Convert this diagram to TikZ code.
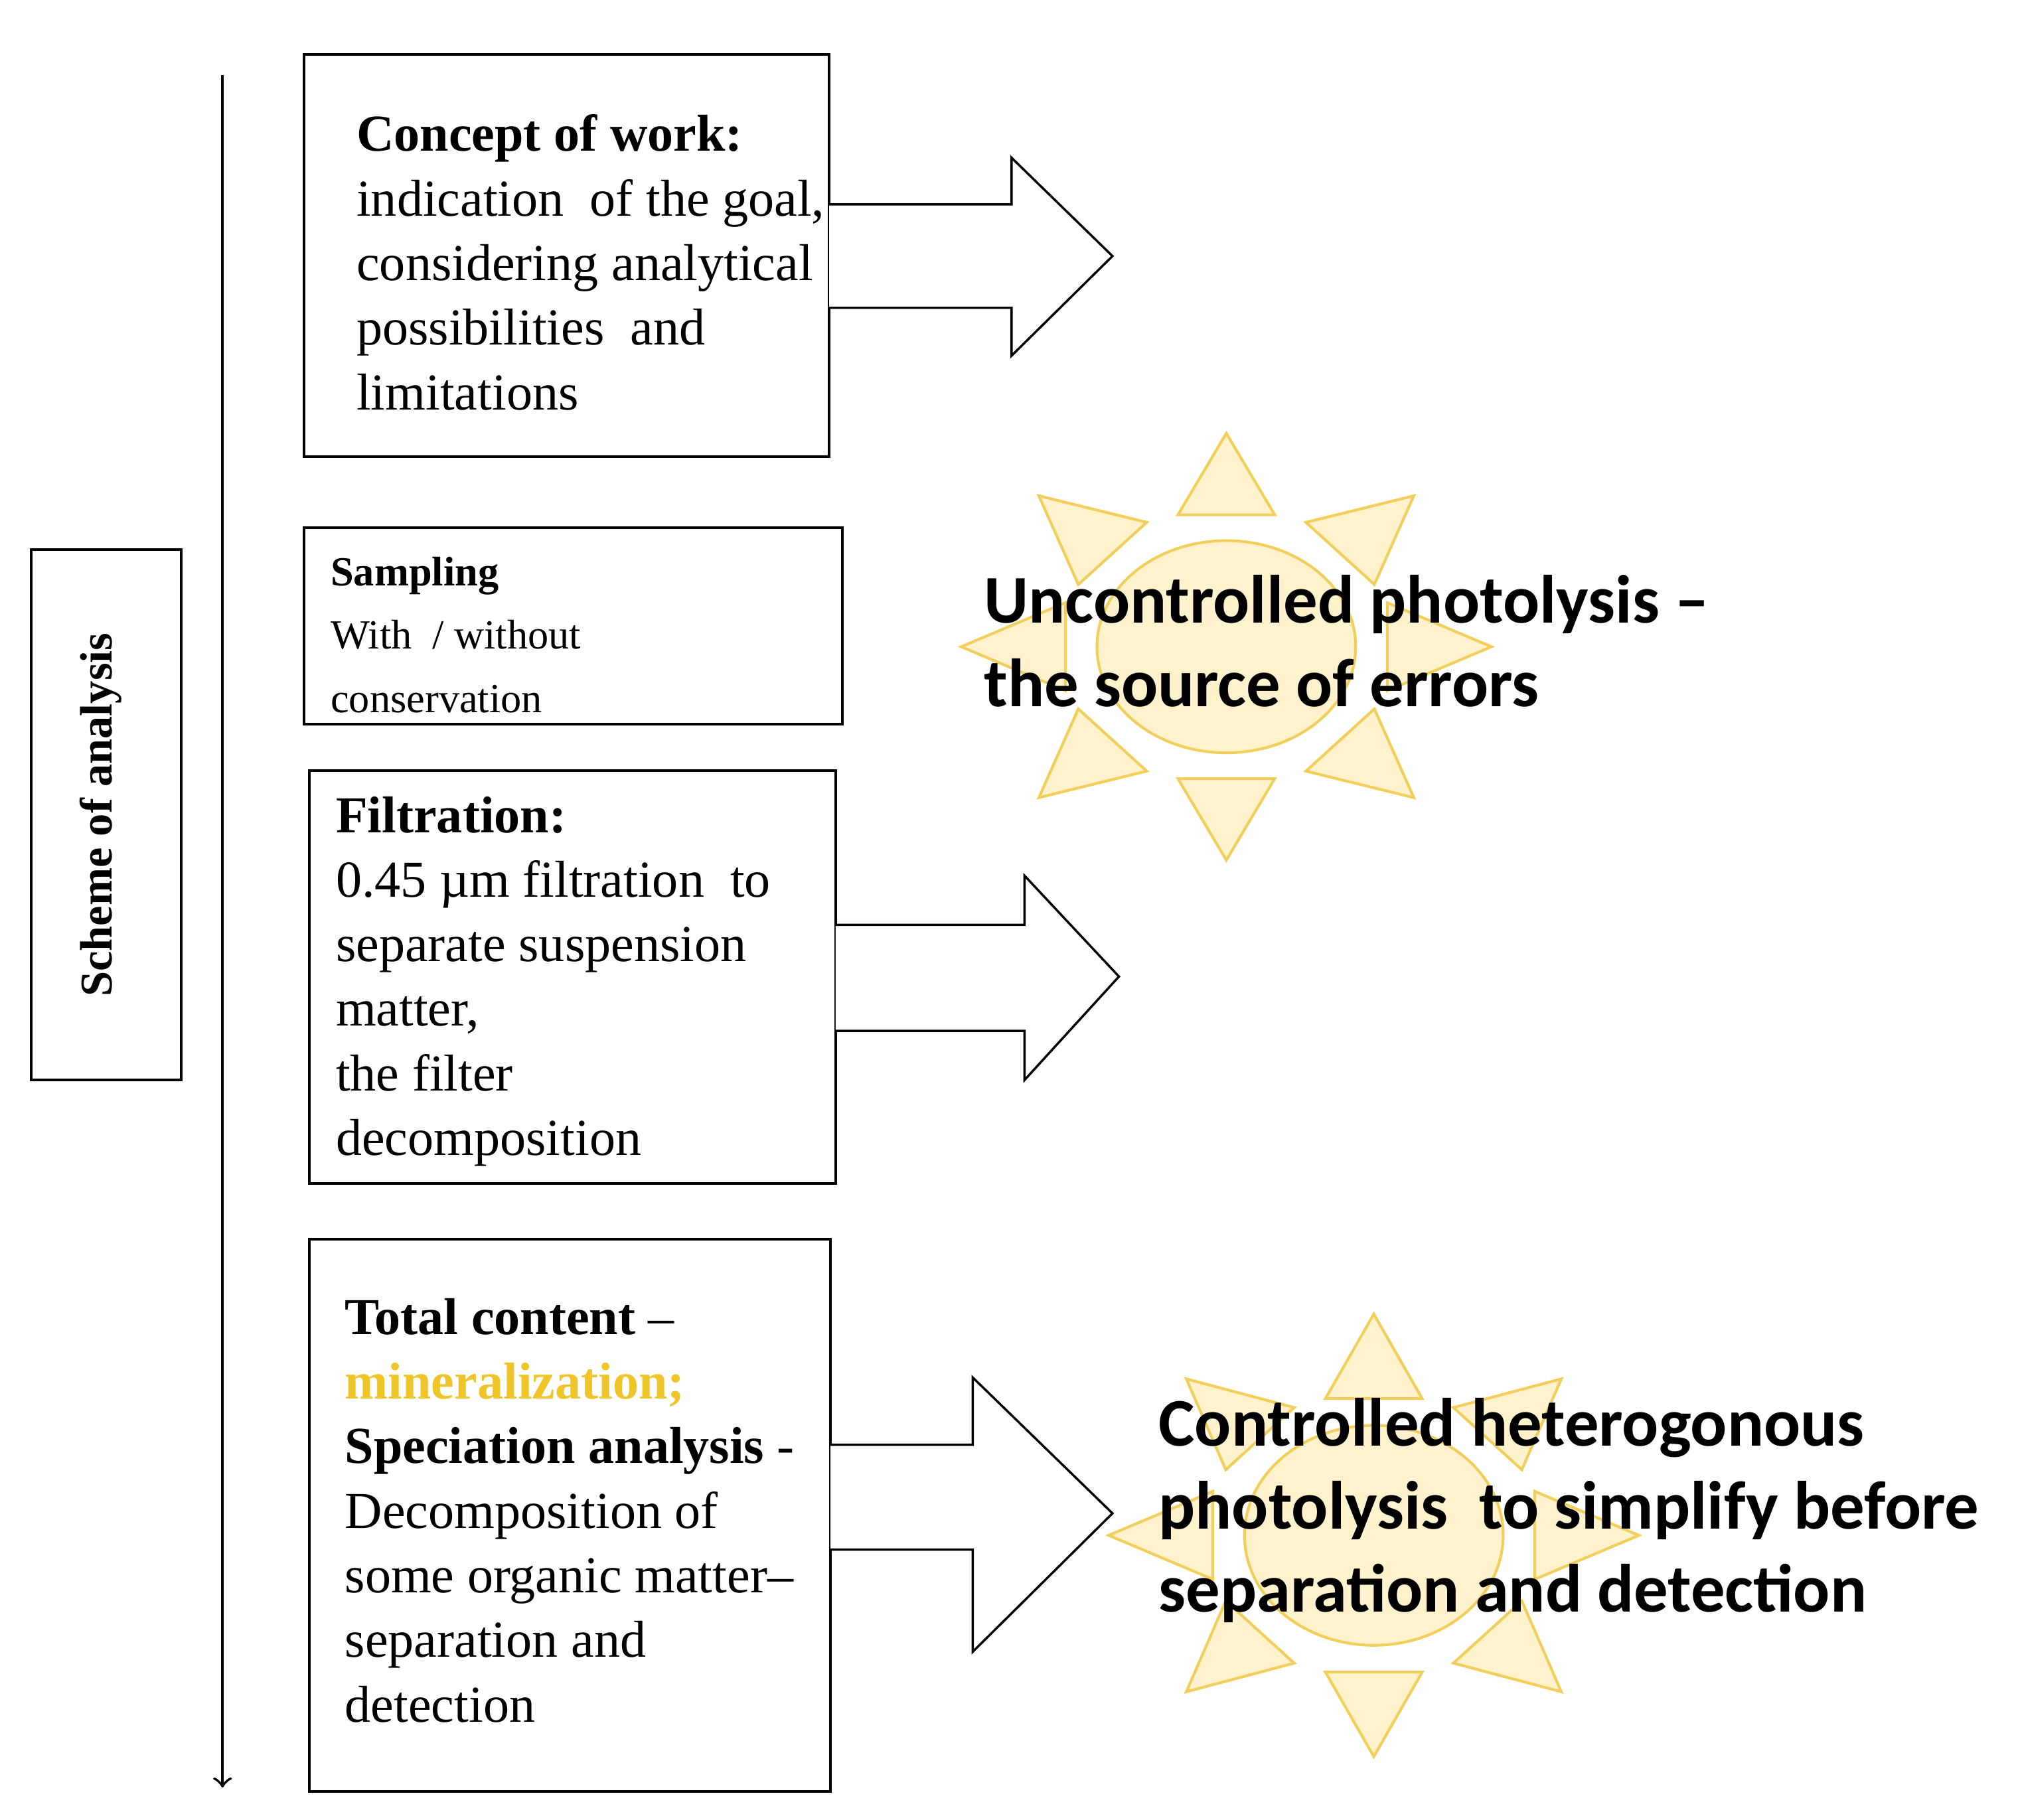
\documentclass[tikz,border=0pt]{standalone}
\usepackage{fontspec}
\setmainfont{Liberation Serif}
\newfontfamily\sunfont{Carlito}
\definecolor{sunfill}{HTML}{FFF2CC}
\definecolor{sunline}{HTML}{F2CE5A}
\definecolor{gold}{HTML}{EFC52A}
\begin{document}
\begin{tikzpicture}[x=0.01cm,y=-0.01cm,
  box/.style={draw,line width=0.6pt},
  txt/.style={anchor=north west,align=left,inner sep=0pt,font=\fontsize{11.4}{14.2}\selectfont},
  small/.style={anchor=north west,align=left,inner sep=0pt,font=\fontsize{9.1}{13.9}\selectfont},
  suntxt/.style={anchor=north west,align=left,inner sep=0pt,font=\sunfont\bfseries\fontsize{15}{18.3}\selectfont},
  blk/.style={draw,line width=0.5pt,fill=white},
  ray/.style={draw=sunline,fill=sunfill,line width=0.6pt}]
\useasboundingbox (0,0) rectangle (1560,1407);
% main vertical arrow
\coordinate (top) at (172,58);
\coordinate (bot) at (172,1382);
\draw[->,line width=0.6pt] (top) -- (bot);
% scheme box
\node[box,minimum width=116*0.01cm,minimum height=410*0.01cm,inner sep=0pt] (scheme) at (82,630) {};
\node[rotate=90,font=\bfseries\fontsize{10}{11}\selectfont] (schemet) at (78,630) {Scheme of analysis};
% boxes
\draw[box] (235,42) rectangle (641,353);
\draw[box] (235,408) rectangle (651,560);
\draw[box] (239,596) rectangle (646,915);
\draw[box] (239,958) rectangle (642,1385);
% block arrows
\draw[blk] (641,158) -- (782,158) -- (782,122) -- (860,198) -- (782,275) -- (782,238) -- (641,238);
\draw[blk] (646,715) -- (792,715) -- (792,677) -- (865,755) -- (792,835) -- (792,797) -- (646,797);
\draw[blk] (642,1117) -- (752,1117) -- (752,1065) -- (860,1170) -- (752,1277) -- (752,1198) -- (642,1198);
% suns
\foreach \cx/\cy/\ry in {948/500/82, 1062/1187/85}{
  \begin{scope}[shift={(\cx,\cy)}]
    \foreach \a in {0,45,...,315}{
      \path[ray] ({1.22*cos(\a)*102},{-sin(\a)*102*(\ry/82)}) ++ ({-sin(\a)*34*1.1},{-cos(\a)*34}) -- ({1.22*cos(\a)*168},{-sin(\a)*165*(\ry/82)}) -- ({1.22*cos(\a)*102+sin(\a)*34*1.1},{-sin(\a)*102*(\ry/82)+cos(\a)*34}) -- cycle;
    }
    \path[ray] (0,0) ellipse ({100*0.01cm} and {\ry*0.01cm});
  \end{scope}
}
% texts
\node[txt] (t1) at (275,88) {\textbf{Concept of work:}\\indication\ \ of the goal,\\considering analytical\\possibilities\ \ and\\limitations};
\node[small] (t2) at (255,430) {\textbf{Sampling}\\With\ \ / without\\conservation};
\node[txt] (t3) at (259,615) {\textbf{Filtration:}\\0.45 µm filtration\ \ to\\separate suspension\\matter,\\the filter\\decomposition};
\node[txt] (t4) at (266,1003) {\textbf{Total content} –\\\textcolor{gold}{\textbf{mineralization;}}\\\textbf{Speciation analysis} -\\Decomposition of\\some organic matter–\\separation and\\detection};
\node[suntxt] (s1) at (760,444) {Uncontrolled photolysis –\\the source of errors};
\node[suntxt] (s2) at (895,1080) {Controlled heterogonous\\photolysis\ \ to simplify before\\separation and detection};
\end{tikzpicture}
\end{document}
